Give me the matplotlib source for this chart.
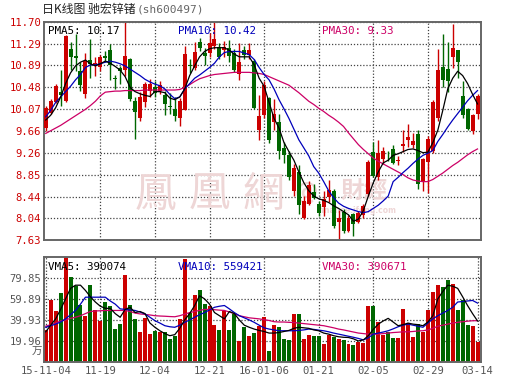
import matplotlib

matplotlib.use("Agg")
import matplotlib.pyplot as plt
import numpy as np

# x axis labels (trading day index -> label)
tick_pos = [0, 11, 22, 33, 44, 55, 66, 77, 87]
tick_labels = ["15-11-04", "11-19", "12-04", "12-21", "16-01-06", "01-21", "02-05", "02-29", "03-14"]
price_ticks = [7.63, 8.04, 8.44, 8.85, 9.26, 9.66, 10.07, 10.48, 10.89, 11.29, 11.70]
vol_ticks = [19.96, 39.93, 59.89, 79.85]

open_ = [9.72, 10.01, 10.21, 10.40, 10.22, 11.20, 11.06, 10.78, 10.36, 10.99,
         10.90, 10.86, 11.07, 11.17, 10.66, 10.84, 10.80, 11.00, 10.22, 9.90,
         10.20, 10.42, 10.48, 10.41, 10.33, 10.14, 10.08, 9.91, 10.06, 10.90,
         10.85, 11.32, 11.12, 11.12, 11.26, 11.24, 11.18, 11.22, 11.13, 10.72,
         11.18, 11.08, 10.97, 9.68, 9.97, 10.28, 9.83, 9.84, 9.34, 9.22,
         8.55, 8.90, 8.05, 8.31, 8.53, 8.31, 8.25, 8.43, 8.55, 7.97,
         8.16, 7.80, 8.11, 7.97, 8.10, 8.49, 9.28, 8.80, 9.14, 9.22,
         9.33, 9.10, 9.38, 9.50, 9.41, 9.60, 8.72, 9.09, 9.30, 9.90,
         10.86, 10.82, 11.05, 11.17, 10.32, 10.07, 9.66, 9.99]
high = [10.14, 10.27, 10.55, 10.80, 11.45, 11.32, 11.48, 10.95, 11.12, 11.38,
        11.05, 11.08, 11.15, 11.28, 10.71, 10.88, 11.70, 11.03, 10.30, 10.40,
        10.58, 10.64, 10.60, 10.60, 10.42, 10.37, 10.30, 10.28, 11.26, 11.00,
        11.32, 11.40, 11.22, 11.50, 11.70, 11.30, 11.35, 11.36, 11.20, 11.30,
        11.25, 11.30, 11.00, 10.33, 10.60, 10.30, 10.27, 9.99, 9.46, 9.30,
        9.05, 9.03, 8.45, 8.74, 8.68, 8.35, 8.55, 8.75, 8.58, 8.19,
        8.20, 8.10, 8.14, 8.18, 8.30, 9.12, 9.46, 9.50, 9.37, 9.30,
        9.40, 9.20, 9.68, 9.79, 9.62, 9.69, 9.17, 9.58, 10.25, 11.20,
        11.48, 11.32, 11.67, 11.18, 10.60, 10.10, 9.98, 10.36]
low = [9.66, 9.98, 10.18, 10.14, 10.20, 10.80, 10.78, 10.42, 10.28, 10.66,
       10.70, 10.78, 10.95, 10.62, 10.45, 10.54, 10.70, 10.23, 9.52, 9.85,
       10.12, 10.30, 10.30, 10.35, 9.97, 9.99, 9.86, 9.75, 10.05, 10.75,
       10.80, 11.15, 10.90, 11.05, 11.20, 11.00, 11.05, 10.95, 10.76, 10.62,
       11.00, 11.00, 10.08, 9.49, 9.90, 9.45, 9.68, 9.15, 9.06, 8.75,
       8.45, 8.12, 8.02, 8.28, 8.40, 8.08, 8.08, 8.34, 7.85, 7.63,
       7.76, 7.78, 7.70, 7.95, 8.05, 8.45, 8.80, 8.75, 9.05, 9.10,
       9.05, 9.03, 9.27, 9.37, 9.35, 8.59, 8.55, 8.50, 9.25, 9.85,
       10.48, 10.40, 10.85, 10.66, 9.90, 9.68, 9.60, 9.88]
close = [10.10, 10.23, 10.51, 10.33, 11.43, 11.05, 11.02, 10.52, 10.97, 10.92,
         10.93, 11.05, 11.02, 10.90, 10.63, 10.78, 11.07, 10.26, 10.02, 10.30,
         10.55, 10.54, 10.37, 10.53, 10.16, 10.12, 9.95, 10.23, 11.10, 10.87,
         11.14, 11.22, 11.06, 11.30, 11.38, 11.05, 11.24, 11.07, 10.80, 10.95,
         11.08, 11.18, 10.10, 9.94, 10.53, 9.50, 9.99, 9.30, 9.21, 8.80,
         8.97, 8.28, 8.35, 8.65, 8.42, 8.13, 8.39, 8.56, 7.90, 8.04,
         7.79, 8.05, 7.92, 8.14, 8.27, 9.09, 8.83, 9.25, 9.29, 9.21,
         9.07, 9.13, 9.42, 9.56, 9.48, 8.67, 9.14, 9.52, 10.20, 10.80,
         10.61, 10.60, 11.22, 10.95, 9.96, 9.71, 9.96, 10.32]

pma5 = [9.87, 9.96, 10.10, 10.30, 10.55, 10.75, 10.88, 10.95, 10.99, 10.92,
        10.88, 10.92, 10.97, 10.93, 10.87, 10.80, 10.68, 10.48, 10.40, 10.36,
        10.33, 10.31, 10.40, 10.40, 10.38, 10.28, 10.25, 10.30, 10.45, 10.70,
        10.88, 11.05, 11.15, 11.20, 11.22, 11.22, 11.22, 11.17, 11.10, 11.05,
        11.05, 11.05, 10.90, 10.65, 10.50, 10.20, 9.90, 9.72, 9.45, 9.28,
        9.12, 8.90, 8.70, 8.55, 8.45, 8.40, 8.37, 8.33, 8.27, 8.22,
        8.16, 8.10, 7.98, 8.02, 8.18, 8.45, 8.70, 8.90, 9.07, 9.12,
        9.21, 9.24, 9.28, 9.32, 9.33, 9.30, 9.26, 9.27, 9.45, 9.68,
        10.05, 10.45, 10.65, 10.78, 10.70, 10.55, 10.35, 10.17]
pma10 = [9.93, 10.05, 10.20, 10.30, 10.40, 10.50, 10.62, 10.72, 10.85, 10.90,
         10.90, 10.92, 10.95, 10.97, 10.95, 10.92, 10.88, 10.82, 10.76, 10.70,
         10.63, 10.58, 10.54, 10.51, 10.45, 10.35, 10.27, 10.30, 10.45, 10.55,
         10.65, 10.71, 10.78, 10.85, 10.93, 11.05, 11.13, 11.15, 11.15, 11.15,
         11.12, 11.09, 11.00, 10.85, 10.72, 10.62, 10.45, 10.25, 10.08, 9.90,
         9.70, 9.50, 9.35, 9.20, 9.00, 8.88, 8.72, 8.55, 8.42, 8.32,
         8.26, 8.22, 8.19, 8.16, 8.14, 8.16, 8.22, 8.28, 8.36, 8.45,
         8.72, 8.80, 8.89, 8.97, 9.06, 9.14, 9.21, 9.25, 9.30, 9.47,
         9.60, 9.74, 9.87, 9.99, 10.11, 10.23, 10.33, 10.42]
pma30 = [9.62, 9.67, 9.72, 9.77, 9.83, 9.89, 9.95, 10.01, 10.07, 10.14,
         10.22, 10.32, 10.39, 10.40, 10.41, 10.41, 10.42, 10.42, 10.42, 10.42,
         10.43, 10.43, 10.43, 10.43, 10.43, 10.43, 10.43, 10.44, 10.48, 10.53,
         10.59, 10.64, 10.67, 10.70, 10.72, 10.73, 10.74, 10.75, 10.76, 10.76,
         10.76, 10.76, 10.75, 10.74, 10.72, 10.68, 10.64, 10.60, 10.56, 10.52,
         10.45, 10.38, 10.30, 10.22, 10.16, 10.09, 10.03, 9.96, 9.90, 9.83,
         9.75, 9.63, 9.52, 9.41, 9.32, 9.24, 9.16, 9.10, 9.05, 9.00,
         8.95, 8.90, 8.85, 8.79, 8.75, 8.73, 8.72, 8.72, 8.76, 8.82,
         8.88, 8.95, 9.02, 9.08, 9.15, 9.22, 9.28, 9.33]

# volume in 10k (万)
volume = [30, 58.5, 48, 66, 100, 81, 72, 54, 44, 73,
          49, 39, 57, 53, 31, 36, 83, 54, 41, 28.5,
          42, 26.7, 29.5, 28.5, 28.5, 22, 24.5, 41, 98, 47,
          64, 68, 55, 53, 35, 30, 48, 30, 46, 20,
          33, 25, 28, 34, 42.5, 10.8, 35.5, 33.6, 22, 21.2,
          46, 46, 22, 26, 25, 25, 17.4, 26, 24, 22,
          21.2, 17.4, 16.5, 19.3, 17.7, 53, 53.5, 37.7, 26, 28.5,
          23, 23, 50.7, 36.7, 24, 36, 28.2, 49.7, 66.8, 73.5,
          71.6, 78, 74.4, 49.7, 59, 35.5, 34.5, 18.7]
vma5 = [28.7, 35, 41, 50, 60, 70, 73, 73, 68, 62,
        57, 53, 51, 51, 46, 42.5, 50, 52, 47, 48,
        46, 37, 33, 29.7, 27, 25, 26, 32, 40, 46,
        53.6, 63, 60, 55, 47, 44, 41, 48, 46, 40,
        35, 33, 31.3, 30, 29, 27.5, 27.5, 28, 29, 30,
        32, 33, 32.5, 32, 30.5, 29.7, 27.5, 26.5, 25, 24,
        23.5, 23.3, 22, 20, 21, 25, 31, 36, 39, 41.5,
        38, 34.5, 35.5, 37, 36, 35.5, 34.5, 38, 44, 60,
        67, 73, 72, 70, 62, 53.6, 46, 39]
vma10 = [33, 34.5, 36, 38, 41, 45, 49, 55, 61.6, 61.6,
         61.6, 61.6, 61.6, 58, 55, 50.5, 50, 49.5, 49, 47.5,
         45.7, 42.5, 39.3, 37, 34.5, 33.5, 33, 35, 37.7, 40,
         42.5, 45, 47, 49.5, 52, 53, 53.7, 50.5, 47, 44,
         42, 40, 37.7, 35, 32.5, 31.3, 30.5, 29.7, 29.7, 29.7,
         29.7, 30, 30.5, 31.3, 31, 30.3, 29.7, 28.7, 27.5, 26.5,
         25.5, 24.5, 23.5, 22.4, 21, 23, 26.5, 27.5, 28.5, 29.7,
         31.5, 33.5, 35, 36, 35, 34, 33, 37, 41, 44,
         46.5, 49, 52, 57, 57.5, 58, 58.5, 56]
vma30 = [34, 35.5, 37, 39, 40, 41.5, 42.5, 44, 46, 48,
         48.5, 48.7, 49, 49, 49, 49, 49, 48, 46.5, 45.7,
         45.2, 44.7, 44, 43.7, 43.5, 43.2, 43, 44, 45.5, 47,
         48, 49, 50, 50, 49.7, 49.3, 49, 47.5, 46, 44,
         43, 42, 41.5, 41, 40.2, 39.5, 38.3, 38, 38, 37.7,
         37.5, 37, 36.5, 36, 35.5, 35, 34.5, 33.5, 32.5, 31.3,
         30.5, 29.5, 28.5, 27.5, 27, 26.5, 26.5, 26.5, 27, 27.5,
         28, 28.3, 28.7, 28.7, 29, 29.5, 29.7, 30.5, 32, 34,
         35, 36, 37, 37.7, 38.3, 38.8, 39.2, 39.3]

UP = "#cc0000"
DOWN = "#006600"
W, H = 530, 391
MONO = "DejaVu Sans Mono"
CJK = ["Noto Sans CJK SC", "DejaVu Sans"]


def fx(px):
    return px / W


def fy(py):
    return 1 - py / H


def style_axes(ax):
    for spine in ax.spines.values():
        spine.set_color("#666666")
        spine.set_linewidth(1.4)
    ax.grid(True, color="#444444", linestyle=(0, (1, 1.5)), linewidth=0.9)
    ax.set_axisbelow(True)
    ax.tick_params(length=0, pad=2)
    ax.set_xlim(-0.35, 87.7)
    ax.set_xticks(tick_pos[1:-1])


fig = plt.figure(figsize=(W / 100, H / 100), dpi=100)
ax1 = fig.add_axes([fx(44), fy(240), fx(437), 218 / H])
ax2 = fig.add_axes([fx(44), fy(362), fx(437), 105 / H])

x = np.arange(len(close))
o = np.array(open_)
c = np.array(close)
up = c >= o
colors = np.where(up, UP, DOWN)

# price panel
style_axes(ax1)
ax1.set_ylim(7.63, 11.70)
ax1.set_yticks(price_ticks)
ax1.set_yticklabels([f"{t:.2f}" for t in price_ticks], color=UP, family=MONO, fontsize=7.6)
ax1.set_xticklabels([])
ax1.vlines(x, low, high, colors=colors, linewidth=1, zorder=2)
ax1.bar(x, np.maximum(np.abs(c - o), 0.015), bottom=np.minimum(o, c), width=0.8,
        color=colors, linewidth=0, zorder=3)
ax1.plot(x, pma30, color="#cc0066", linewidth=0.9, zorder=4)
ax1.plot(x, pma10, color="#0000bb", linewidth=0.9, zorder=4)
ax1.plot(x, pma5, color="black", linewidth=0.9, zorder=4)

# watermark
wm = "#eed6d6"
for ch, px in zip("鳳凰網", [155, 209, 263]):
    ax1.text(fx(px), fy(195), ch, transform=fig.transFigure, family=CJK, fontsize=30,
             color=wm, ha="center", va="center", zorder=1)
ax1.text(fx(306), fy(193), "@", transform=fig.transFigure, fontsize=17, fontweight="bold",
         color=wm, ha="center", va="center", zorder=1)
ax1.text(fx(364), fy(191), "財經", transform=fig.transFigure, family=CJK, fontsize=17,
         fontweight="bold", color=wm, ha="center", va="center", zorder=1)
ax1.text(fx(397), fy(211), "finance.ifeng.com", transform=fig.transFigure, fontsize=5.5,
         fontweight="bold", color=wm, ha="right", va="center", zorder=1)

# volume panel
style_axes(ax2)
ax2.set_ylim(0, 99.8)
ax2.set_yticks(vol_ticks)
ax2.set_yticklabels([f"{t:.2f}" for t in vol_ticks], color="#555555", family=MONO, fontsize=7.6)
ax2.set_xticks(tick_pos)
ax2.set_xticklabels(tick_labels, color="#555555", family=MONO, fontsize=7.6)
ax2.tick_params(axis="x", pad=3)
ax2.bar(x, volume, width=0.8, color=colors, linewidth=0, zorder=2)
ax2.plot(x, vma30, color="#cc0066", linewidth=0.9, zorder=4)
ax2.plot(x, vma10, color="#0000bb", linewidth=0.9, zorder=4)
ax2.plot(x, vma5, color="black", linewidth=0.9, zorder=4)
fig.text(fx(42), fy(352), "万", family=CJK, fontsize=7.5, color="#555555", ha="right", va="center")

# headings and legends
fig.text(fx(42), fy(9), "日K线图 驰宏锌锗", family=CJK, fontsize=8.6, color="#222222", va="center")
fig.text(fx(137), fy(9), "(sh600497)", family=MONO, fontsize=8, color="#666666", va="center")
for label, color, px in [("PMA5: 10.17", "black", 48), ("PMA10: 10.42", "#0000bb", 178),
                         ("PMA30: 9.33", "#cc0066", 322)]:
    fig.text(fx(px), fy(31), label, family=MONO, fontsize=7.8, color=color, va="center")
for label, color, px in [("VMA5: 390074", "black", 48), ("VMA10: 559421", "#0000bb", 178),
                         ("VMA30: 390671", "#cc0066", 322)]:
    fig.text(fx(px), fy(267), label, family=MONO, fontsize=7.8, color=color, va="center")

fig.savefig("out.png", dpi=100)
